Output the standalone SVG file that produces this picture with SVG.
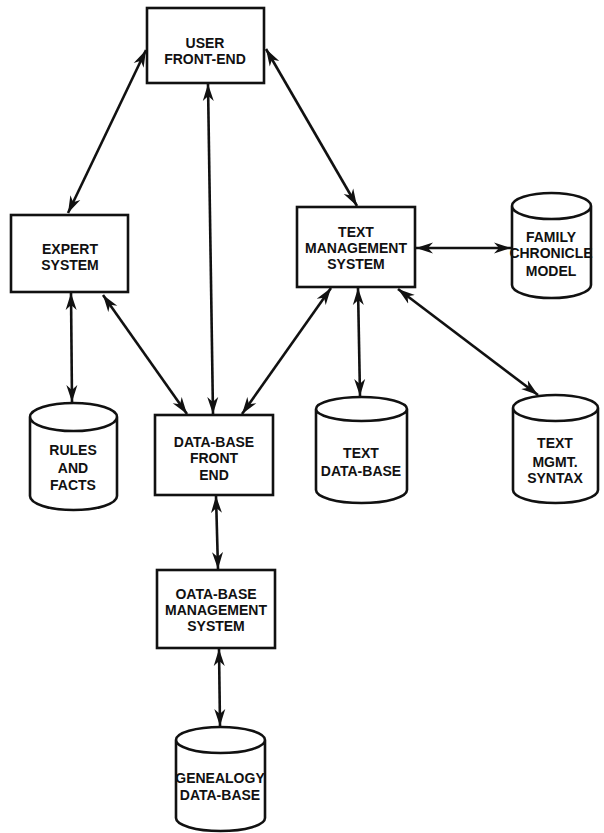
<svg xmlns="http://www.w3.org/2000/svg" width="604" height="833" viewBox="0 0 604 833">
  <style>
    .box { fill: #fff; stroke: #111; stroke-width: 2.6; }
    .cyl { fill: #fff; stroke: #111; stroke-width: 2.6; stroke-linejoin: round; }
    .lbl { font-family: "Liberation Sans", Arial, sans-serif; font-weight: bold; font-size: 14px; fill: #111; text-anchor: middle; }
    .link { stroke: #111; stroke-width: 2.6; fill: none; marker-start: url(#head); marker-end: url(#head); }
  </style>
  <defs>
    <marker id="head" markerUnits="userSpaceOnUse" markerWidth="18" markerHeight="12" viewBox="0 0 18 12" refX="17" refY="6" orient="auto-start-reverse">
      <path d="M0,0.5 L17,6 L0,11.5 L5,6 Z" fill="#111"/>
    </marker>
  </defs>
  <rect width="604" height="833" fill="#fff"/>

  <!-- connectors -->
  <g id="connectors">
    <line class="link" x1="146" y1="50" x2="68" y2="213"/>
    <line class="link" x1="208" y1="84" x2="213" y2="414"/>
    <line class="link" x1="266" y1="49" x2="357" y2="206"/>
    <line class="link" x1="71" y1="293" x2="72" y2="402"/>
    <line class="link" x1="103" y1="295" x2="187" y2="414"/>
    <line class="link" x1="331" y1="288" x2="242" y2="414"/>
    <line class="link" x1="358" y1="288" x2="360" y2="396"/>
    <line class="link" x1="398" y1="289" x2="538" y2="395"/>
    <line class="link" x1="416" y1="248" x2="511" y2="248"/>
    <line class="link" x1="216" y1="496" x2="218" y2="569"/>
    <line class="link" x1="219" y1="649" x2="220" y2="726"/>
  </g>

  <!-- process boxes -->
  <g id="user-front-end">
    <rect class="box" x="147" y="8" width="117" height="75"/>
    <text class="lbl" x="205" y="48">USER</text>
    <text class="lbl" x="205" y="64">FRONT-END</text>
  </g>
  <g id="expert-system">
    <rect class="box" x="11" y="215" width="117" height="77"/>
    <text class="lbl" x="70" y="254">EXPERT</text>
    <text class="lbl" x="70" y="270">SYSTEM</text>
  </g>
  <g id="text-management-system">
    <rect class="box" x="297" y="207" width="118" height="80"/>
    <text class="lbl" x="356" y="237">TEXT</text>
    <text class="lbl" x="356" y="253">MANAGEMENT</text>
    <text class="lbl" x="356" y="269">SYSTEM</text>
  </g>
  <g id="data-base-front-end">
    <rect class="box" x="155" y="415" width="118" height="80"/>
    <text class="lbl" x="214" y="447">DATA-BASE</text>
    <text class="lbl" x="214" y="463">FRONT</text>
    <text class="lbl" x="214" y="480">END</text>
  </g>
  <g id="data-base-management-system">
    <rect class="box" x="157" y="570" width="118" height="78"/>
    <text class="lbl" x="216" y="599">OATA-BASE</text>
    <text class="lbl" x="216" y="615">MANAGEMENT</text>
    <text class="lbl" x="216" y="631">SYSTEM</text>
  </g>

  <!-- data stores -->
  <g id="family-chronicle-model">
    <path class="cyl" d="M512,206 A39.5,13 0 0 1 591,206 A39.5,13 0 0 1 512,206 Z M512,206 V285 A39.5,13 0 0 0 591,285 V206"/>
    <text class="lbl" x="551" y="242">FAMILY</text>
    <text class="lbl" x="551" y="258">CHRONICLE</text>
    <text class="lbl" x="551" y="276">MODEL</text>
  </g>
  <g id="rules-and-facts">
    <path class="cyl" d="M30,417 A43.5,14 0 0 1 117,417 A43.5,14 0 0 1 30,417 Z M30,417 V496 A43.5,14 0 0 0 117,496 V417"/>
    <text class="lbl" x="73" y="455">RULES</text>
    <text class="lbl" x="73" y="473">AND</text>
    <text class="lbl" x="73" y="490">FACTS</text>
  </g>
  <g id="text-data-base">
    <path class="cyl" d="M316,409 A45.5,12 0 0 1 407,409 A45.5,12 0 0 1 316,409 Z M316,409 V490 A45.5,13 0 0 0 407,490 V409"/>
    <text class="lbl" x="361" y="458">TEXT</text>
    <text class="lbl" x="361" y="476">DATA-BASE</text>
  </g>
  <g id="text-mgmt-syntax">
    <path class="cyl" d="M513,408 A42.5,13 0 0 1 598,408 A42.5,13 0 0 1 513,408 Z M513,408 V490 A42.5,13 0 0 0 598,490 V408"/>
    <text class="lbl" x="555" y="448">TEXT</text>
    <text class="lbl" x="555" y="467">MGMT.</text>
    <text class="lbl" x="555" y="483">SYNTAX</text>
  </g>
  <g id="genealogy-data-base">
    <path class="cyl" d="M176,740 A44.5,13 0 0 1 265,740 A44.5,13 0 0 1 176,740 Z M176,740 V818 A44.5,13 0 0 0 265,818 V740"/>
    <text class="lbl" x="220" y="783">GENEALOGY</text>
    <text class="lbl" x="220" y="800">DATA-BASE</text>
  </g>
</svg>
